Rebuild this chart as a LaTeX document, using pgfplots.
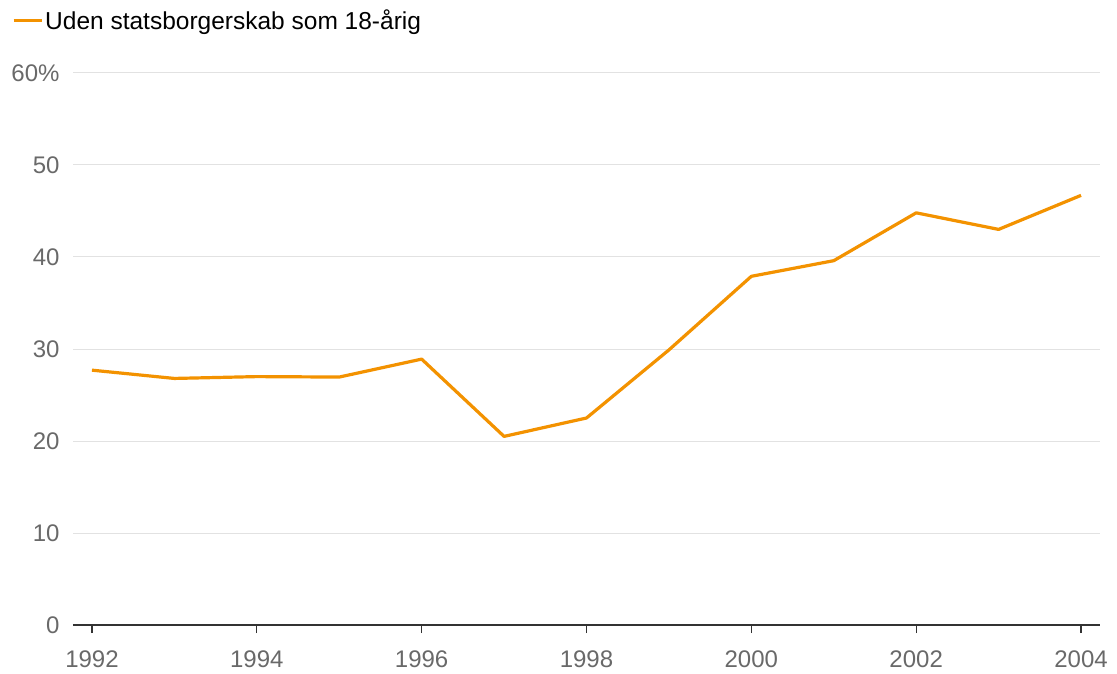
\documentclass[border=0pt]{standalone}
\usepackage{pgfplots}
\pgfplotsset{compat=1.18}
\usepackage{fontspec}
\setmainfont{Liberation Sans}
\definecolor{lineorange}{RGB}{243,146,0}
\definecolor{gridgray}{RGB}{226,226,226}
\definecolor{ticklab}{RGB}{105,105,105}
\begin{document}
\begin{tikzpicture}[x=1pt,y=1pt]
\useasboundingbox (0,0) rectangle (1117,673);
\begin{axis}[
  at={(73pt,48pt)}, anchor=origin,
  scale only axis, width=1027pt, height=552pt,
  xmin=1991.77, xmax=2004.23, ymin=0, ymax=60,
  axis x line*=bottom, axis y line*=left,
  x axis line style={draw=black!80, line width=1.3pt, -},
  y axis line style={draw=none},
  ytick={0,10,20,30,40,50,60},
  yticklabels={0,10,20,30,40,50,60\%},
  xtick={1992,1994,...,2004},
  xticklabels={1992,1994,1996,1998,2000,2002,2004},
  ymajorgrids, grid style={gridgray, line width=1pt},
  major tick length=8pt,
  xtick style={draw=black!80, line width=1.3pt},
  ytick style={draw=none},
  tick align=outside,
  x tick label style={font=\fontsize{24}{28}\selectfont, text=ticklab, yshift=-14pt},
  y tick label style={font=\fontsize{24}{28}\selectfont, text=ticklab, anchor=east, xshift=-2pt},
  /pgf/number format/assume math mode=true,
  clip=false,
  legend style={draw=none, fill=none, at={(-0.0594,1.118)}, anchor=north west,
    font=\fontsize{24.5}{28}\selectfont, inner sep=0pt, legend cell align=left},
  legend image code/.code={\draw[line width=3pt, lineorange] (0pt,0pt) -- (28pt,0pt);},
]
\addplot[lineorange, line width=3.2pt, line join=round] coordinates {
(1992,27.7) (1993,26.8) (1994,27.0) (1995,26.95) (1996,28.9) (1997,20.5)
(1998,22.5) (1999,29.9) (2000,37.9) (2001,39.6) (2002,44.8) (2003,43.0) (2004,46.7)
};
\addlegendentry{Uden statsborgerskab som 18-årig}
\end{axis}
\end{tikzpicture}
\end{document}
